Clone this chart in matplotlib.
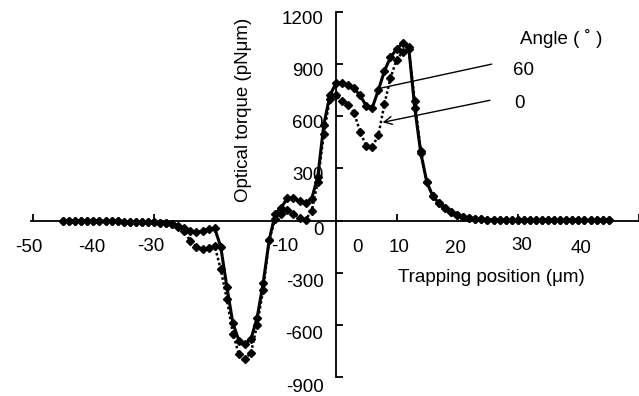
import matplotlib
matplotlib.use('Agg')
import matplotlib.pyplot as plt
import matplotlib.transforms as mtransforms
import numpy as np

plt.rcParams['font.family'] = ['Liberation Sans', 'DejaVu Sans']

# trapping position (um), one point per micron
position = list(range(-45, 46))

# optical torque (pN um) at 60 degrees
torque_60 = [-2, -2, -2, -3, -3, -3, -4, -4, -5, -5,
             -6, -6, -7, -8, -9, -10, -12, -15, -20, -30,
             -45, -60, -68, -60, -48, -45, -150, -380, -590, -690,
             -710, -680, -560, -360, -110, 40, 75, 130, 130, 110,
             100, 125, 250, 550, 720, 790, 790, 780, 760, 720,
             660, 650, 750, 860, 940, 985, 1020, 1000, 650, 390,
             220, 140, 100, 70, 48, 32, 22, 15, 11, 8,
             6, 5, 4, 3, 3, 2, 2, 2, 2, 2,
             1, 1, 1, 1, 1, 1, 1, 1, 1, 1, 1]

# optical torque (pN um) at 0 degrees
torque_0 = [-2, -2, -2, -3, -3, -3, -4, -4, -5, -5,
            -6, -6, -7, -8, -9, -10, -12, -16, -22, -35,
            -60, -120, -150, -165, -158, -145, -280, -450, -650, -770,
            -795, -760, -600, -400, -110, 10, 40, 58, 40, 12,
            5, 55, 220, 500, 700, 720, 690, 665, 620, 510,
            430, 425, 490, 670, 820, 925, 970, 990, 690, 400,
            220, 140, 100, 70, 48, 32, 22, 15, 11, 8,
            6, 5, 4, 3, 3, 2, 2, 2, 2, 2,
            1, 1, 1, 1, 1, 1, 1, 1, 1, 1, 1]

y_ticks = [-900, -600, -300, 0, 300, 600, 900, 1200]
x_tick_marks = [-50, -30, -10, 10, 30, 50]
x_label_text = ['-50', '-40', '-30', '-10', '0', '10', '20', '30', '40']
x_label_pos = [-50.7, -40.2, -30.5, -8.5, 3.6, 10.5, 19.8, 30.6, 40.5]
x_label_y = [-156, -156, -150, -150, -156, -156, -162, -144, -162]

FS = 13.5

fig = plt.figure(figsize=(6.39, 3.96), dpi=100)
ax = fig.add_axes([31 / 639, 19 / 396, 608 / 639, 365 / 396])

ax.plot(position, torque_60, color='black', lw=2.2, ls='-',
        marker='D', ms=4.3, mfc='black', mec='black')
ax.plot(position, torque_0, color='black', lw=1.8, ls=(0, (1, 1)),
        marker='D', ms=4.3, mfc='black', mec='black')

ax.set_xlim(-50.3, 49.5)
ax.set_ylim(-900, 1200)

for side in ['top', 'right']:
    ax.spines[side].set_visible(False)
ax.spines['left'].set_position(('data', 0))
ax.spines['bottom'].set_position(('data', 0))
ax.spines['left'].set_linewidth(1.3)
ax.spines['bottom'].set_linewidth(1.3)

ax.set_xticks(x_tick_marks)
ax.set_xticklabels([])
ax.tick_params(axis='x', direction='in', length=5, width=1.3)
ax.set_yticks(y_ticks)
ax.set_yticklabels([str(v) for v in y_ticks], fontsize=FS)
ax.tick_params(axis='y', direction='in', length=5, width=1.3, pad=9)
for lab, v in zip(ax.get_yticklabels(), y_ticks):
    dy = -5 if v > 0 else -8
    lab.set_transform(lab.get_transform() +
                      mtransforms.ScaledTranslation(0, dy / 100, fig.dpi_scale_trans))

for txt, xp, yp in zip(x_label_text, x_label_pos, x_label_y):
    ax.text(xp, yp, txt, fontsize=FS, ha='center', va='center')

ax.text(-15.2, 635, 'Optical torque (pNμm)', rotation=90, fontsize=FS,
        ha='center', va='center')
ax.text(25.7, -329, 'Trapping position (μm)', fontsize=FS,
        ha='center', va='center')

ax.text(37.2, 1050, 'Angle ( ˚ )', fontsize=FS, ha='center', va='center')
ax.text(31.0, 865, '60', fontsize=FS, ha='center', va='center')
ax.text(30.3, 675, '0', fontsize=FS, ha='center', va='center')
ax.annotate('', xy=(7.4, 762), xytext=(25.7, 900),
            arrowprops=dict(arrowstyle='-', color='black', lw=1.0,
                            shrinkA=0, shrinkB=0))
ax.annotate('', xy=(7.7, 565), xytext=(25.4, 692),
            arrowprops=dict(arrowstyle='->', color='black', lw=1.0,
                            shrinkA=0, shrinkB=0, mutation_scale=14))

fig.savefig('out.png', dpi=100)
